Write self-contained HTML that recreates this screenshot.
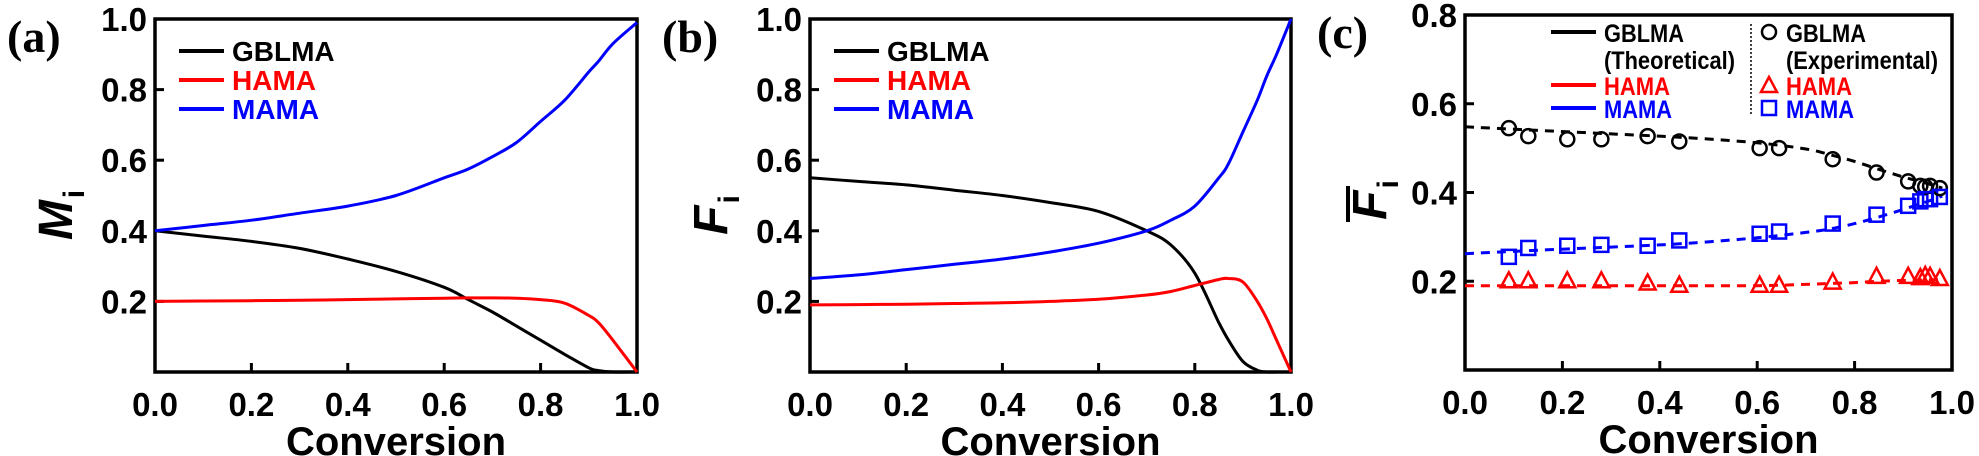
<!DOCTYPE html>
<html><head><meta charset="utf-8">
<style>
html,body{margin:0;padding:0;background:#fff;}
svg{display:block;font-family:"Liberation Sans",Arial,sans-serif;}
</style></head>
<body>
<svg id="chart" width="1979" height="456" viewBox="0 0 1979 456" xmlns="http://www.w3.org/2000/svg"></svg>
<script>
// ---- data ----
const aX = [0,0.1,0.2,0.3,0.4,0.5,0.6,0.65,0.7,0.75,0.8,0.85,0.9,0.92,0.95,1.0];
const aMAMA  = [0.40,0.415,0.43,0.45,0.47,0.50,0.55,0.575,0.61,0.65,0.71,0.77,0.85,0.88,0.93,0.99];
const aGBLMA = [0.40,0.385,0.37,0.35,0.32,0.285,0.24,0.205,0.17,0.13,0.09,0.05,0.012,0.004,0.0,0.0];
const aHAMA  = [0.20,0.201,0.202,0.203,0.205,0.207,0.209,0.21,0.21,0.209,0.205,0.195,0.16,0.14,0.09,0.0];

const bX = [0,0.1,0.2,0.3,0.4,0.5,0.6,0.7,0.75,0.8,0.85,0.87,0.9,0.93,0.95,0.97,1.0];
const bMAMA  = [0.265,0.275,0.29,0.305,0.32,0.34,0.365,0.40,0.43,0.47,0.55,0.59,0.68,0.77,0.84,0.9,1.0];
const bGBLMA = [0.55,0.54,0.53,0.515,0.50,0.48,0.455,0.40,0.36,0.28,0.14,0.09,0.03,0.005,0.0,0.0,0.0];
const bHAMA  = [0.19,0.191,0.192,0.194,0.196,0.20,0.206,0.218,0.228,0.245,0.262,0.265,0.255,0.2,0.15,0.09,0.0];

const cFitX = [0,0.15,0.3,0.45,0.6,0.7,0.75,0.8,0.85,0.9,0.95,0.98];
const cFitGBLMA = [0.548,0.54,0.532,0.524,0.512,0.498,0.485,0.47,0.452,0.435,0.42,0.41];
const cFitMAMA  = [0.262,0.27,0.277,0.285,0.298,0.31,0.318,0.33,0.345,0.362,0.38,0.392];
const cFitHAMA  = [0.19,0.19,0.19,0.19,0.19,0.193,0.195,0.197,0.2,0.202,0.203,0.204];

const cExpX = [0.09,0.13,0.21,0.28,0.375,0.44,0.605,0.645,0.755,0.845,0.91,0.935,0.945,0.955,0.975];
const cExpGBLMA = [0.545,0.527,0.52,0.52,0.527,0.515,0.5,0.5,0.475,0.445,0.425,0.415,0.413,0.415,0.41];
const cExpMAMA  = [0.255,0.275,0.28,0.282,0.28,0.292,0.307,0.312,0.33,0.35,0.37,0.38,0.385,0.385,0.39];
const cExpHAMA  = [0.2,0.2,0.2,0.2,0.195,0.19,0.19,0.19,0.197,0.21,0.21,0.207,0.212,0.21,0.205];

const xTicks = ["0.0","0.2","0.4","0.6","0.8","1.0"];
const abYTicks = ["0.2","0.4","0.6","0.8","1.0"];
const cYTicks = ["0.2","0.4","0.6"];
const cYTop = ["0.8"];

const NS = "http://www.w3.org/2000/svg";
const svg = document.getElementById('chart');
function el(tag, attrs, parent, text){
  const e = document.createElementNS(NS, tag);
  for (const k in attrs) e.setAttribute(k, attrs[k]);
  if (text !== undefined) e.textContent = text;
  (parent || svg).appendChild(e);
  return e;
}
const RED="#ff0000", BLUE="#0000ff", BLK="#000000";

function panel(id, L, R, T, B, ymax, label, yTickList){
  const g = el('g', {});
  
  
  const sx = v => L + (R - L) * v;
  const sy = v => B - (B - T) * v / ymax;
  const fr = el('rect', {x:L, y:T, width:R-L, height:B-T, fill:'none', stroke:'#000', 'stroke-width':3.5}, g);
  
  
  xTicks.forEach(t => {
    const v = parseFloat(t);
    el('line', {x1:sx(v), x2:sx(v), y1:B, y2:B-9, stroke:'#000', 'stroke-width':3}, g);
    const tx = el('text', {x:sx(v), y:B+44, 'font-size':33, 'font-weight':'bold', 'text-anchor':'middle'}, g, t);
    
    
  });
  yTickList.forEach(t => {
    const v = parseFloat(t);
    el('line', {x1:L, x2:L+9, y1:sy(v), y2:sy(v), stroke:'#000', 'stroke-width':3}, g);
    const tx = el('text', {x:L-8, y:sy(v)+12, 'font-size':33, 'font-weight':'bold', 'text-anchor':'end'}, g, t);
    
    
  });
  const xt = el('text', {x:(L+R)/2, y:B+83, 'font-size':40, 'font-weight':'bold', 'text-anchor':'middle'}, g, 'Conversion');
  
  
  const pl = el('text', {x:L-148, y:T+33, 'font-size':46, 'font-weight':'bold', 'font-family':'"Liberation Serif",serif'}, g, label);
  
  
  return {g, sx, sy};
}
function smoothPath(pts){
  let d = 'M' + pts[0][0].toFixed(1) + ',' + pts[0][1].toFixed(1);
  for (let i = 0; i < pts.length - 1; i++){
    const p0 = pts[i-1] || pts[i], p1 = pts[i], p2 = pts[i+1], p3 = pts[i+2] || p2;
    const c1x = p1[0] + (p2[0]-p0[0])/6, c1y = p1[1] + (p2[1]-p0[1])/6;
    const c2x = p2[0] - (p3[0]-p1[0])/6, c2y = p2[1] - (p3[1]-p1[1])/6;
    d += ` C${c1x.toFixed(1)},${c1y.toFixed(1)} ${c2x.toFixed(1)},${c2y.toFixed(1)} ${p2[0].toFixed(1)},${p2[1].toFixed(1)}`;
  }
  return d;
}
function line(p, xs, ys, color, dashed, name){
  const d = smoothPath(xs.map((x,i)=>[p.sx(x), p.sy(ys[i])]));
  const a = {d, fill:'none', stroke:color, 'stroke-width':3, 'stroke-linejoin':'round'};
  if (dashed) a['stroke-dasharray'] = '9,7';
  const e = el('path', a, p.g);
  
  
}
function legendLine(g, x, y, color, text, name, fs){
  el('line', {x1:x, x2:x+45, y1:y-10, y2:y-10, stroke:color, 'stroke-width':4}, g);
  const t = el('text', {x:x+53, y:y, 'font-size':fs||28, 'font-weight':'bold', fill:color}, g, text);
  
  
  return t;
}
function yTitle(g, x, y, letter, bar){
  const t = el('text', {transform:`translate(${x},${y}) rotate(-90)`, 'font-size':48, 'font-weight':'bold', 'font-style':'italic', 'text-anchor':'middle'}, g);
  
  
  el('tspan', {}, t, letter);
  el('tspan', {dy:12, dx:2, 'font-size':30, 'font-style':'normal'}, t, 'i');
  if (bar) el('line', {x1:x-38, x2:x-38, y1:y-14, y2:y+22, stroke:'#000', 'stroke-width':4}, g);
}

// panel a
const pa = panel('a', 155, 637, 19, 372, 1.0, '(a)', abYTicks);
line(pa, aX, aGBLMA, BLK, false, 'line-gblma');
line(pa, aX, aHAMA, RED, false, 'line-hama');
line(pa, aX, aMAMA, BLUE, false, 'line-mama');
yTitle(pa.g, 72, 215, 'M', false);
legendLine(pa.g, 179, 61, BLK, 'GBLMA', 'legend-gblma');
legendLine(pa.g, 179, 90, RED, 'HAMA', 'legend-hama');
legendLine(pa.g, 179, 119, BLUE, 'MAMA', 'legend-mama');

// panel b
const pb = panel('b', 810, 1291, 19, 372, 1.0, '(b)', abYTicks);
line(pb, bX, bGBLMA, BLK, false, 'line-gblma');
line(pb, bX, bHAMA, RED, false, 'line-hama');
line(pb, bX, bMAMA, BLUE, false, 'line-mama');
yTitle(pb.g, 727, 215, 'F', false);
legendLine(pb.g, 834, 61, BLK, 'GBLMA', 'legend-gblma');
legendLine(pb.g, 834, 90, RED, 'HAMA', 'legend-hama');
legendLine(pb.g, 834, 119, BLUE, 'MAMA', 'legend-mama');

// panel c
const pc = panel('c', 1465, 1952, 15, 370, 0.8, '(c)', cYTicks);
const top8 = el('text', {x:1457, y:27, 'font-size':33, 'font-weight':'bold', 'text-anchor':'end'}, pc.g, cYTop[0]);


line(pc, cFitX, cFitGBLMA, BLK, true, 'fit-gblma');
line(pc, cFitX, cFitMAMA, BLUE, true, 'fit-mama');
line(pc, cFitX, cFitHAMA, RED, true, 'fit-hama');
cExpX.forEach((x,i)=>{
  const c = el('circle', {cx:pc.sx(x), cy:pc.sy(cExpGBLMA[i]), r:7, fill:'none', stroke:BLK, 'stroke-width':2.5}, pc.g);
  
  
  const s = el('rect', {x:pc.sx(x)-7, y:pc.sy(cExpMAMA[i])-7, width:14, height:14, fill:'none', stroke:BLUE, 'stroke-width':2.5}, pc.g);
  
  
  const X = pc.sx(x), Y = pc.sy(cExpHAMA[i]);
  const t = el('polygon', {points:`${X},${Y-9} ${X-8},${Y+6} ${X+8},${Y+6}`, fill:'none', stroke:RED, 'stroke-width':2.5}, pc.g);
  
  
});
yTitle(pc.g, 1386, 200, 'F', true);
function fit(t, w){ t.setAttribute('textLength', w); t.setAttribute('lengthAdjust', 'spacingAndGlyphs'); }
fit(legendLine(pc.g, 1551, 42, BLK, 'GBLMA', 'legend-gblma-theoretical', 25), 80);
const th = el('text', {x:1604, y:69, 'font-size':25, 'font-weight':'bold'}, pc.g, '(Theoretical)');
fit(th, 131);


fit(legendLine(pc.g, 1551, 95, RED, 'HAMA', 'legend-hama-theoretical', 25), 66);
fit(legendLine(pc.g, 1551, 118, BLUE, 'MAMA', 'legend-mama-theoretical', 25), 68);
el('line', {x1:1751, x2:1751, y1:24, y2:115, stroke:'#000', 'stroke-width':1.5, 'stroke-dasharray':'2,2'}, pc.g);
el('circle', {cx:1769, cy:32, r:7, fill:'none', stroke:BLK, 'stroke-width':2.5}, pc.g);
const e1 = el('text', {x:1786, y:42, 'font-size':25, 'font-weight':'bold'}, pc.g, 'GBLMA');
fit(e1, 80);


const e2 = el('text', {x:1786, y:69, 'font-size':25, 'font-weight':'bold'}, pc.g, '(Experimental)');
fit(e2, 152);


el('polygon', {points:'1769,77 1761,92 1777,92', fill:'none', stroke:RED, 'stroke-width':2.5}, pc.g);
const e3 = el('text', {x:1786, y:95, 'font-size':25, 'font-weight':'bold', fill:RED}, pc.g, 'HAMA');
fit(e3, 66);


el('rect', {x:1762, y:101, width:14, height:14, fill:'none', stroke:BLUE, 'stroke-width':2.5}, pc.g);
const e4 = el('text', {x:1786, y:118, 'font-size':25, 'font-weight':'bold', fill:BLUE}, pc.g, 'MAMA');
fit(e4, 68);


</script>
</body></html>
